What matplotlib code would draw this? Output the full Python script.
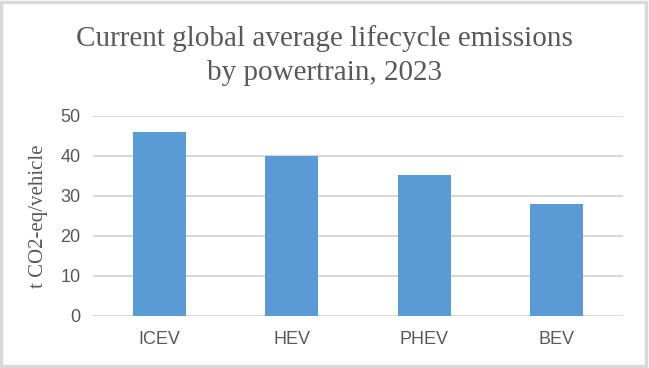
import matplotlib.pyplot as plt
from matplotlib.patches import Rectangle

powertrains = ['ICEV', 'HEV', 'PHEV', 'BEV']
emissions = [46, 40, 35.2, 28]
yticks = [0, 10, 20, 30, 40, 50]

W, H = 649, 368
fig = plt.figure(figsize=(W / 100, H / 100), dpi=100)
ax = fig.add_axes([93 / W, 1 - 316 / H, 530 / W, 200 / H])

ax.bar(range(len(powertrains)), emissions, width=0.4, color='#5B9BD5', zorder=3)
ax.set_xlim(-0.5, len(powertrains) - 0.5)
ax.set_ylim(0, 50)
ax.set_yticks(yticks)
ax.set_xticks(range(len(powertrains)))
ax.set_xticklabels(powertrains)
ax.grid(axis='y', color='#D9D9D9', linewidth=1.5, zorder=0)
for s in ax.spines.values():
    s.set_visible(False)
ax.tick_params(length=0, labelsize=13, labelcolor='#595959')
ax.tick_params(axis='y', pad=9)
ax.tick_params(axis='x', pad=11)
for lab in ax.get_xticklabels() + ax.get_yticklabels():
    lab.set_family(['Liberation Sans', 'DejaVu Sans'])

ax.set_ylabel('t CO2-eq/vehicle', family='Liberation Serif', fontsize=15,
              color='#595959', labelpad=9)
fig.text(0.5, 1 - 56 / H, 'Current global average lifecycle emissions\nby powertrain, 2023',
         ha='center', va='center', family='Liberation Serif', fontsize=21,
         color='#595959', linespacing=1.4)

fig.patches.append(Rectangle((1 / W, 2 / H), 1 - 4 / W, 1 - 4 / H, transform=fig.transFigure,
                             fill=False, edgecolor='#D9D9D9', linewidth=2.5))

fig.savefig('out.png', dpi=100)
